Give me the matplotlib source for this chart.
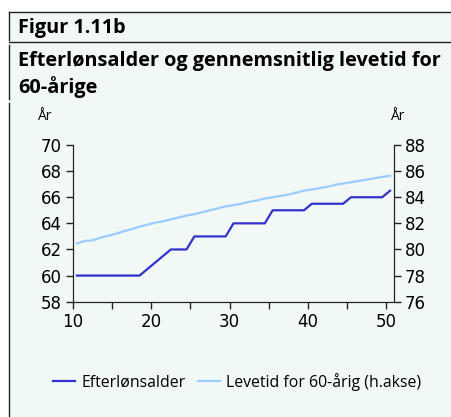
import numpy as np
import matplotlib.pyplot as plt
from matplotlib.lines import Line2D

plt.rcParams["font.family"] = ["Open Sans", "DejaVu Sans"]

# years 2010-2050, drawn at the middle of each year
years = np.arange(10, 51)
efterloen = [60, 60, 60, 60, 60, 60, 60, 60, 60, 60.5, 61, 61.5, 62, 62, 62,
             63, 63, 63, 63, 63, 64, 64, 64, 64, 64, 65, 65, 65, 65, 65,
             65.5, 65.5, 65.5, 65.5, 65.5, 66, 66, 66, 66, 66, 66.5]
levetid = [80.45, 80.65, 80.7, 80.9, 81.05, 81.2, 81.4, 81.55, 81.75, 81.9,
           82.05, 82.15, 82.3, 82.45, 82.6, 82.7, 82.85, 83.0, 83.15, 83.3,
           83.4, 83.5, 83.65, 83.75, 83.9, 84.0, 84.1, 84.2, 84.35, 84.5,
           84.6, 84.7, 84.8, 84.95, 85.05, 85.15, 85.25, 85.35, 85.45, 85.55,
           85.65]
xticks_major = [10, 20, 30, 40, 50]
bg = "#f1f8f6"
dark = "#3333cc"
light = "#99ccff"

fig = plt.figure(figsize=(4.52, 4.17), dpi=100)
fig.patch.set_facecolor("white")

# background panel and frame lines
fig.patches.append(plt.Rectangle((9 / 452, 0), 1, 1 - 12 / 417, transform=fig.transFigure,
                                 facecolor=bg, edgecolor="none", zorder=-10))
fig.add_artist(Line2D([9 / 452, 1], [1 - 12 / 417] * 2, color="#222222", lw=1))
fig.add_artist(Line2D([9 / 452, 1], [1 - 42 / 417] * 2, color="#222222", lw=1))
fig.add_artist(Line2D([9 / 452] * 2, [1 - 12 / 417, 1 - 40 / 417], color="#222222", lw=1))
fig.add_artist(Line2D([9 / 452] * 2, [1 - 45 / 417, 1 - 99 / 417], color="#222222", lw=1))
fig.add_artist(Line2D([9 / 452] * 2, [1 - 103 / 417, 0], color="#222222", lw=1))

fig.text(18 / 452, 1 - 28 / 417, "Figur 1.11b", fontsize=14.3, fontweight="bold",
         va="center", ha="left")
fig.text(18 / 452, 1 - 61 / 417, "Efterlønsalder og gennemsnitlig levetid for",
         fontsize=14.3, fontweight="bold", va="center", ha="left")
fig.text(18 / 452, 1 - 87 / 417, "60-årige", fontsize=14.3, fontweight="bold",
         va="center", ha="left")
fig.text(38 / 452, 1 - 117 / 417, "År", fontsize=10, va="center", ha="left")
fig.text(391 / 452, 1 - 117 / 417, "År", fontsize=10, va="center", ha="left")

ax = fig.add_axes([73 / 452, 1 - 301.7 / 417, (394 - 73) / 452, (301.7 - 145) / 417])
ax.set_facecolor(bg)
ax.plot(years + 0.5, efterloen, color=dark, lw=1.6)
ax.set_xlim(10, 51)
ax.set_ylim(58, 70)
ax.set_yticks(np.arange(58, 71, 2))
ax.set_xticks(np.arange(10, 51, 5))
ax.set_xticklabels([str(t) if t in xticks_major else "" for t in np.arange(10, 51, 5)])
ax.spines["top"].set_visible(False)

ax2 = ax.twinx()
ax2.plot(years + 0.5, levetid, color=light, lw=1.6)
ax2.set_ylim(76, 88)
ax2.set_yticks(np.arange(76, 89, 2))
ax2.spines["top"].set_visible(False)

for a in (ax, ax2):
    a.tick_params(length=5, width=1, color="#222222", pad=3)
    for lab in a.get_xticklabels() + a.get_yticklabels():
        lab.set_fontfamily("DejaVu Sans")
        lab.set_fontsize(12)
    for s in a.spines.values():
        s.set_color("#222222")

handles = [Line2D([], [], color=dark, lw=1.6), Line2D([], [], color=light, lw=1.6)]
fig.legend(handles, ["Efterlønsalder", "Levetid for 60-årig (h.akse)"],
           loc="center", bbox_to_anchor=(237 / 452, 1 - 382 / 417), ncol=2,
           frameon=False, fontsize=11.4, handlelength=1.4, handletextpad=0.4,
           columnspacing=0.8)

fig.savefig("out.png", dpi=100, facecolor=fig.get_facecolor())
